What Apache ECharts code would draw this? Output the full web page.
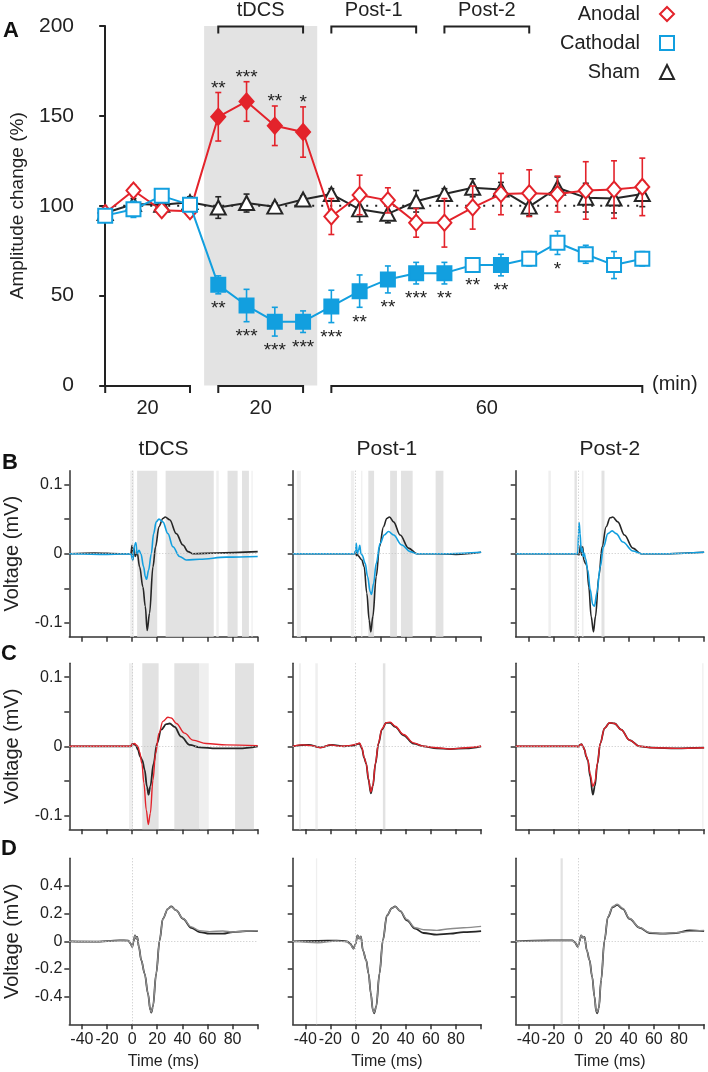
<!DOCTYPE html>
<html><head><meta charset="utf-8">
<script src="https://cdn.jsdelivr.net/npm/echarts@6/dist/echarts.min.js"></script>
<style>html,body{margin:0;padding:0;background:#fff}#c{width:708px;height:1072px}</style>
</head><body><div id="c"></div>
<script>
// ---------------- Panel A data ----------------
const blockIdx = [0,1,2,3,4,5,6,7,8,9,10,11,12,13,14,15,16,17,18,19];
const anodalMean = [96,108.5,97.5,97,149.5,158,144.5,141,94,106,103,90.5,90.5,99,106.5,107,106.5,108.5,109,110.5];
const anodalErr  = [2,3,2,3,13.5,11,11,14,10,11,7,8,13.5,12,11.5,13,10,16,16,16];
const anodalFilled = [0,0,0,0,1,1,1,1,0,0,0,0,0,0,0,0,0,0,0,0];
const anodalStars = ['','','','','**','***','**','*','','','','','','','','','','','',''];
const cathodalMean = [94.5,98,105.5,100.5,56,44.5,35.5,35.5,44,52.5,59,62.5,62.5,67,67,70.5,79.4,73,67,70.5];
const cathodalErr  = [3,4.5,3,3,5,9,8,6,9,9,7.5,6,6,3,6,4,6.5,5,7.5,4];
const cathodalFilled = [0,0,0,0,1,1,1,1,1,1,1,1,1,0,1,0,0,0,0,0];
const cathodalStars = ['','','','','**','***','***','***','***','**','**','***','**','**','**','','*','','',''];
const shamMean = [96,101,100.5,102,99,101.5,99.5,103.5,106.5,98,95.5,102.5,106.5,110,109,99.5,110,104.5,104,106.5];
const shamErr  = [2,3,2,3,6,5,2,2,3,7,5,6,3,5,4,5,6,8,8,7];
const refLevel = 100;
const tdcsShade = [3.5, 7.5];
const topBracketLabels = ['tDCS','Post-1','Post-2'];
const topBracketFrom = [4,8,12];
const topBracketTo = [7,11,15];
const bottomBracketLabels = ['20','20','60'];
const bottomBracketFrom = [0,4,8];
const bottomBracketTo = [3,7,19];
const yTicksA = [0,50,100,150,200];

// ---------------- Panels B-D data (time ms, voltage mV) ----------------
const B_tdcs_base = [[-50,0],[-30,0.001],[-10,0],[-1,0],[0,0.012],[0.5,-0.009],[1.5,0.008],[2.5,-0.004],[4,0.002],[6,-0.019],[8.6,-0.048],[10.5,-0.076],[12,-0.111],[13.9,-0.086],[16.6,-0.019],[18.7,0.010],[21.4,0.039],[24.5,0.051],[26.4,0.053],[29.9,0.049],[35.2,0.029],[40.5,0.0125],[44.5,0.003],[48.4,0],[67,0.001],[100,0.003]];
const B_tdcs_cath = [[-50,0],[-20,-0.001],[-1,0],[0.5,-0.009],[2,0.0125],[3,0.016],[4,0],[5.5,0.005],[7,0],[9.2,-0.019],[10.5,-0.033],[11.5,-0.037],[13.1,-0.024],[15.3,0],[17.1,0.029],[19.2,0.046],[21.4,0.050],[24.5,0.046],[28.5,0.029],[32.5,0.010],[37.8,-0.004],[43.1,-0.009],[53.7,-0.008],[75,-0.005],[100,-0.004]];
const B_post1_base = [[-50,0],[-1,0],[0,0.003],[0.6,-0.003],[1.3,0.002],[2,-0.003],[5.1,-0.009],[6.9,-0.019],[9,-0.057],[10.9,-0.096],[12.2,-0.113],[13.8,-0.091],[16.5,-0.033],[19.1,0.010],[22.3,0.039],[24.9,0.051],[27.1,0.053],[30.3,0.046],[35.6,0.027],[42.2,0.008],[48.9,0],[64.8,0],[80,-0.001],[100,0.002]];
const B_post1_cath = [[-50,0],[-1,0],[0,0.003],[0.6,0.015],[1.4,0],[2.4,0.005],[3.4,0.012],[4.3,0],[5.3,-0.002],[7.7,-0.014],[9.6,-0.033],[11.7,-0.055],[12.7,-0.059],[14.4,-0.043],[16.5,-0.014],[19.6,0.015],[22.9,0.027],[26.3,0.032],[30.3,0.027],[36.9,0.0125],[43.5,0.003],[48.9,0],[75,0],[100,0.002]];
const B_post2_base = [[-50,0],[-1,0],[0.3,-0.002],[0.8,0.003],[1.6,0.0125],[2.4,-0.002],[3.4,0.010],[4.2,-0.009],[5.6,-0.014],[6.6,-0.017],[8.2,-0.048],[10.1,-0.091],[11.9,-0.113],[13.5,-0.091],[16.2,-0.033],[18.8,0.010],[22,0.039],[25.2,0.052],[27.3,0.053],[31.3,0.046],[36.6,0.027],[43.3,0.008],[49.9,0],[72.5,0],[100,0.002]];
const B_post2_cath = [[-50,0],[-1,0],[-0.5,0.003],[0,0.029],[0.5,0.045],[1.3,0.029],[2.1,0.003],[2.9,0.008],[3.7,-0.004],[4.5,0.001],[5.6,-0.007],[7.4,-0.024],[9.3,-0.052],[11.4,-0.074],[12.7,-0.076],[14.6,-0.057],[17.3,-0.019],[19.9,0.010],[23.4,0.029],[26.8,0.033],[30,0.029],[35.3,0.017],[43.3,0.004],[49.9,0],[72,0],[100,0.002]];

const C_tdcs_base = [[-50,0],[-1,0],[0,0.003],[2,0.003],[3.3,0],[4.6,-0.005],[6.5,-0.015],[8.1,-0.02],[10,-0.034],[11.8,-0.058],[13.1,-0.070],[14.5,-0.058],[17.1,-0.025],[19.8,0.004],[23.2,0.024],[27.2,0.032],[29.9,0.033],[33.8,0.028],[39.1,0.014],[45.8,0.002],[53.7,-0.0015],[67,-0.003],[85,-0.003],[100,0]];
const C_tdcs_anod = [[-50,0],[-1,0],[0,0.003],[2,0.004],[3.3,0.002],[4.6,0],[6,-0.008],[7.8,-0.025],[9.4,-0.053],[11.3,-0.092],[12.9,-0.113],[14.5,-0.097],[16.6,-0.049],[18.7,-0.010],[21.4,0.019],[24.5,0.036],[28.5,0.042],[31.2,0.041],[35.2,0.033],[41.8,0.019],[48.4,0.009],[59,0.004],[75,0.002],[100,0.001]];
const C_post1_base = [[-50,0],[-37.4,0.002],[-28,-0.0015],[-18.8,0.002],[-9,0],[-1.5,0.001],[1,0.003],[3.2,0.004],[5.1,-0.003],[6.9,-0.017],[8.5,-0.025],[10.4,-0.049],[12.2,-0.068],[13.8,-0.058],[15.9,-0.025],[18.3,0.004],[21,0.024],[24.4,0.034],[27.6,0.034],[31.6,0.028],[38.2,0.016],[46.2,0.004],[54.2,0],[64.7,-0.003],[75.3,-0.004],[88,-0.003],[100,0]];
const C_post1_anod = [[-50,0],[-42,0.002],[-35,0.001],[-28,-0.002],[-20,0.002],[-12,0],[-5,0.001],[1,0.003],[3.2,0.005],[5.1,-0.002],[6.9,-0.016],[8.5,-0.025],[10.4,-0.047],[12.2,-0.066],[13.8,-0.057],[15.9,-0.024],[18.3,0.005],[21,0.025],[24.4,0.034],[27.6,0.035],[31.6,0.029],[38.2,0.017],[46.2,0.005],[54.2,0],[64.7,-0.002],[75.3,-0.004],[88,-0.002],[100,0]];
const C_post2_base = [[-50,0],[-1,0],[0,-0.001],[1,0.002],[2.4,0.003],[3.5,0],[4.8,-0.005],[6.1,-0.015],[7.4,-0.02],[9.3,-0.044],[11.4,-0.070],[13,-0.058],[15.1,-0.025],[17.3,0.004],[20.7,0.026],[24.7,0.034],[28.7,0.033],[34,0.024],[40.6,0.009],[48.6,0],[59.2,-0.002],[77.8,-0.003],[100,-0.002]];
const C_post2_anod = [[-50,0],[-1,0],[0,-0.001],[1,0.002],[2.4,0.003],[3.5,0],[4.8,-0.005],[6.1,-0.014],[7.4,-0.019],[9.3,-0.040],[11.4,-0.058],[13,-0.052],[15.1,-0.024],[17.3,0.004],[20.7,0.026],[24.7,0.034],[28.7,0.033],[34,0.024],[40.6,0.009],[48.6,0],[59.2,-0.002],[77.8,-0.003],[100,-0.002]];

const D_tdcs_base = [[-50,0],[-30,-0.003],[-10,0.007],[-3,0.005],[-1.2,-0.017],[0.1,-0.04],[1.2,0],[2.3,0.043],[3.3,0.019],[4.1,0.031],[5.4,-0.041],[7.3,-0.137],[10,-0.233],[12.6,-0.376],[14.5,-0.496],[15.3,-0.515],[16.6,-0.472],[19.2,-0.233],[21.9,0.007],[24.5,0.163],[28.5,0.235],[31.2,0.252],[35.2,0.223],[40.5,0.163],[47.1,0.098],[53.7,0.067],[61.7,0.055],[72.3,0.055],[80.3,0.067],[90.9,0.074],[100,0.074]];
const D_tdcs_sham = [[-50,0],[-30,-0.002],[-10,0.005],[-3,0.004],[-1.2,-0.018],[0.1,-0.04],[1.2,0],[2.3,0.042],[3.3,0.019],[4.1,0.030],[5.4,-0.041],[7.3,-0.137],[10,-0.233],[12.6,-0.376],[14.5,-0.496],[15.3,-0.512],[16.6,-0.472],[19.2,-0.233],[21.9,0.007],[24.5,0.163],[28.5,0.235],[31.2,0.250],[35.2,0.223],[40.5,0.165],[47.1,0.104],[53.7,0.077],[61.7,0.070],[72.3,0.075],[80.3,0.067],[90.9,0.074],[100,0.076]];
const D_post1_base = [[-50,0],[-30,0.003],[-15,0.005],[-7,0],[-4.2,-0.017],[-1.6,-0.053],[0,-0.02],[1.6,0.043],[2.9,0.02],[4.3,0.036],[5.9,-0.065],[8.5,-0.137],[10.4,-0.233],[12.2,-0.376],[13.8,-0.496],[14.9,-0.52],[16.5,-0.472],[19.1,-0.233],[21.8,0.007],[25,0.187],[29,0.24],[31.6,0.252],[35.6,0.218],[40.9,0.151],[47.5,0.091],[54.2,0.06],[64.8,0.048],[75.4,0.055],[86,0.067],[100,0.074]];
const D_post1_sham = [[-50,0],[-30,-0.01],[-15,0.002],[-7,-0.003],[-4.2,-0.02],[-1.6,-0.055],[0,-0.02],[1.6,0.04],[2.9,0.02],[4.3,0.034],[5.9,-0.065],[8.5,-0.137],[10.4,-0.233],[12.2,-0.376],[13.8,-0.496],[14.9,-0.515],[16.5,-0.472],[19.1,-0.233],[21.8,0.007],[25,0.187],[29,0.24],[31.6,0.250],[35.6,0.220],[40.9,0.158],[47.5,0.098],[54.2,0.084],[64.8,0.079],[75.4,0.091],[86,0.098],[100,0.108]];
const D_post2_base = [[-50,0],[-23,0.007],[-5,0.007],[-3.2,-0.005],[-0.5,-0.041],[0.8,0],[2.1,0.043],[3.5,0.026],[4.8,0.031],[6.6,-0.065],[8.8,-0.137],[10.9,-0.257],[12.7,-0.4],[14.1,-0.508],[14.9,-0.52],[16.2,-0.484],[18,-0.281],[20.7,0.007],[23.4,0.175],[27.3,0.247],[30.8,0.264],[35.3,0.235],[40.6,0.163],[48.6,0.098],[56.5,0.06],[67.1,0.055],[77.8,0.06],[88.4,0.079],[100,0.074]];
const D_post2_sham = [[-50,0],[-23,0.005],[-5,0.006],[-3.2,-0.006],[-0.5,-0.04],[0.8,0],[2.1,0.042],[3.5,0.026],[4.8,0.03],[6.6,-0.065],[8.8,-0.137],[10.9,-0.257],[12.7,-0.4],[14.1,-0.505],[14.9,-0.512],[16.2,-0.484],[18,-0.281],[20.7,0.007],[23.4,0.178],[27.3,0.252],[30.8,0.268],[35.3,0.238],[40.6,0.165],[48.6,0.1],[56.5,0.064],[67.1,0.057],[77.8,0.062],[88.4,0.072],[100,0.078]];

// significance bands (ms ranges)
const B_tdcs_bands = [[4,20],[26.7,65],[76,84],[87.5,93]];
const B_tdcs_faint = [[-1.5,1.5],[67,69],[95,96]];
const B_post1_bands = [[10.2,14.8],[27.6,33],[36.2,45.5],[63.8,70]];
const B_post1_faint = [[-46.7,-43.5],[-3.7,-1],[4.5,5.5]];
const B_post2_bands = [[-3.2,-1.3],[18.3,20.7]];
const B_post2_faint = [[-24,-22],[2.7,4]];
const C_tdcs_bands = [[8.1,21.1],[33.6,53.7],[82,97]];
const C_tdcs_faint = [[-2.5,0.7],[54,61]];
const C_post1_bands = [[21.8,23.8]];
const C_post1_faint = [[-45,-43.5],[-32,-30]];
const C_post2_bands = [];
const C_post2_faint = [[98.5,99.5]];
const D_tdcs_bands = [];
const D_tdcs_faint = [];
const D_post1_bands = [];
const D_post1_faint = [[-31.5,-30.5]];
const D_post2_bands = [[-14.3,-12.5]];
const D_post2_faint = [];

const xTicks = [-40,-20,0,20,40,60,80,100];
const xTickLabels = [-40,-20,0,20,40,60,80];
const yTicksBC = [-0.1,-0.05,0,0.05,0.1];
const yLabelsBC = [-0.1,0,0.1];
const yTicksD = [-0.4,-0.2,0,0.2,0.4];
const columnTitles = ['tDCS','Post-1','Post-2'];

// ---------------- styling ----------------
const RED = '#e3232b', BLUE = '#129fdf', DARK = '#262626', GRAYT = '#8c8c8c';
const FONT = '"Liberation Sans", Arial, Helvetica, sans-serif';
const TXT = '#222';

const chart = echarts.init(document.getElementById('c'), null, {renderer:'canvas'});

const grids = [{left:78.6, top:26, width:584.9, height:359.5}];
const xAxes = [{gridIndex:0, type:'value', min:-0.75, max:19.75, show:false}];
const yAxes = [{gridIndex:0, type:'value', min:0, max:200, interval:50,
  axisLine:{show:true, lineStyle:{color:'#222', width:2}},
  axisTick:{show:true, length:6, lineStyle:{color:'#222', width:2}},
  axisLabel:{fontSize:21, color:TXT, margin:10, fontFamily:FONT},
  splitLine:{show:false},
  name:'Amplitude change (%)', nameLocation:'middle', nameGap:57,
  nameTextStyle:{fontSize:19, color:TXT, fontFamily:FONT}}];

const series = [];

// reference dotted line + tDCS shading
series.push({type:'line', name:'ref', xAxisIndex:0, yAxisIndex:0, z:1, silent:true,
  symbol:'none', data:[[blockIdx[0],refLevel],[blockIdx[19],refLevel]],
  lineStyle:{color:'#222', width:2, type:[2,7]},
  markArea:{silent:true, itemStyle:{color:'#e3e3e3'},
    data:[[{xAxis:tdcsShade[0], yAxis:yTicksA[0]},{xAxis:tdcsShade[1], yAxis:yTicksA[4]}]]}
});

function errSeries(name, mean, err, color, z){
  return {type:'custom', name, xAxisIndex:0, yAxisIndex:0, z, silent:true,
    data: blockIdx.map((x,i)=>[x, mean[i]-err[i], mean[i]+err[i]]),
    encode:{x:0, y:[1,2]},
    renderItem(params, api){
      const lo = api.coord([api.value(0), api.value(1)]);
      const hi = api.coord([api.value(0), api.value(2)]);
      const w = 3, st = {stroke:color, lineWidth:1.6};
      return {type:'group', children:[
        {type:'line', shape:{x1:lo[0],y1:lo[1],x2:hi[0],y2:hi[1]}, style:st},
        {type:'line', shape:{x1:lo[0]-w,y1:lo[1],x2:lo[0]+w,y2:lo[1]}, style:st},
        {type:'line', shape:{x1:hi[0]-w,y1:hi[1],x2:hi[0]+w,y2:hi[1]}, style:st}
      ]};
    }
  };
}
function meanSeries(name, mean, filled, color, symbol, size, z){
  return {type:'line', name, xAxisIndex:0, yAxisIndex:0, z, silent:true,
    symbol, symbolSize:size, showAllSymbol:true,
    lineStyle:{color, width:2},
    itemStyle:{color:'#fff', borderColor:color, borderWidth:2},
    data: blockIdx.map((x,i)=> filled[i] ? {value:[x,mean[i]], itemStyle:{color, borderColor:color}} : [x,mean[i]])
  };
}
function starSeries(name, mean, err, stars, dir, z){
  const data = [];
  blockIdx.forEach((x,i)=>{ if (stars[i]) data.push([x, mean[i] + dir*err[i], i]); });
  return {type:'custom', name, xAxisIndex:0, yAxisIndex:0, z, silent:true, data,
    encode:{x:0, y:1},
    renderItem(params, api){
      const p = api.coord([api.value(0), api.value(1)]);
      return {type:'text', x:p[0], y: p[1] + (dir < 0 ? 15 : -4),
        style:{text: stars[api.value(2)], align:'center', verticalAlign:'middle',
          fontSize:19, fill:TXT, fontFamily:FONT}};
    }
  };
}

series.push(errSeries('Sham-err', shamMean, shamErr, DARK, 2));
series.push(meanSeries('Sham', shamMean, blockIdx.map(()=>0), DARK, 'triangle', [15,14], 3));
series.push(errSeries('Anodal-err', anodalMean, anodalErr, RED, 4));
series.push(meanSeries('Anodal', anodalMean, anodalFilled, RED, 'diamond', [14,16], 5));
series.push(errSeries('Cathodal-err', cathodalMean, cathodalErr, BLUE, 6));
series.push(meanSeries('Cathodal', cathodalMean, cathodalFilled, BLUE, 'rect', 14, 7));
series.push(starSeries('Anodal-stars', anodalMean, anodalErr, anodalStars, 1, 8));
series.push(starSeries('Cathodal-stars', cathodalMean, cathodalErr, cathodalStars, -1, 8));

// brackets
function bracketSeries(name, labels, from, to, yVal, textDy, z){
  return {type:'custom', name, xAxisIndex:0, yAxisIndex:0, z, silent:true,
    data: labels.map((l,i)=>[from[i], to[i], yVal, i]),
    encode:{x:[0,1], y:2},
    renderItem(params, api){
      const a = api.coord([api.value(0), api.value(2)]);
      const b = api.coord([api.value(1), api.value(2)]);
      const y = a[1] + 0.5;
      return {type:'group', children:[
        {type:'polyline', shape:{points:[[a[0],y+7],[a[0],y],[b[0],y],[b[0],y+7]]},
          style:{stroke:'#222', lineWidth:2, fill:null}},
        {type:'text', x:(a[0]+b[0])/2, y:y+textDy,
          style:{text:labels[api.value(3)], align:'center', verticalAlign:'middle', fontSize:20, fill:TXT, fontFamily:FONT}}
      ]};
    }
  };
}
series.push(bracketSeries('topBr', topBracketLabels, topBracketFrom, topBracketTo, yTicksA[4], -16, 9));
series.push(bracketSeries('botBr', bottomBracketLabels, bottomBracketFrom, bottomBracketTo, yTicksA[0], 22, 9));

// ---------------- small multiples ----------------
const colLeft = [69.3, 292.7, 515.7];
const rowTop = [470.7, 663.3, 858.3];
const GW = 188.4, GH = 166;
const rows = [
  {traces:[[B_tdcs_base,B_tdcs_cath],[B_post1_base,B_post1_cath],[B_post2_base,B_post2_cath]],
   bands:[B_tdcs_bands,B_post1_bands,B_post2_bands], faint:[B_tdcs_faint,B_post1_faint,B_post2_faint],
   colors:[DARK,BLUE], widths:[1.6,1.6], yMin:-0.12, yMax:0.12, yTicks:yTicksBC, yLabels:yLabelsBC, xLabels:false},
  {traces:[[C_tdcs_base,C_tdcs_anod],[C_post1_base,C_post1_anod],[C_post2_base,C_post2_anod]],
   bands:[C_tdcs_bands,C_post1_bands,C_post2_bands], faint:[C_tdcs_faint,C_post1_faint,C_post2_faint],
   colors:[DARK,RED], widths:[1.8,1.4], yMin:-0.12, yMax:0.12, yTicks:yTicksBC, yLabels:yLabelsBC, xLabels:false},
  {traces:[[D_tdcs_base,D_tdcs_sham],[D_post1_base,D_post1_sham],[D_post2_base,D_post2_sham]],
   bands:[D_tdcs_bands,D_post1_bands,D_post2_bands], faint:[D_tdcs_faint,D_post1_faint,D_post2_faint],
   colors:[DARK,GRAYT], widths:[1.8,1.4], yMin:-0.6, yMax:0.6, yTicks:yTicksD, yLabels:yTicksD, xLabels:true}
];
const axLine = {show:true, onZero:false, lineStyle:{color:'#333', width:1.5}};
const axTick = {show:true, length:5, lineStyle:{color:'#333', width:1.5}};

rows.forEach((row, r)=>{
  for (let c=0;c<3;c++){
    const g = grids.length;
    grids.push({left:colLeft[c], top:rowTop[r], width:GW, height:GH});
    xAxes.push({gridIndex:g, type:'value', min:-50, max:100,
      axisLine:axLine, axisTick:Object.assign({customValues:xTicks}, axTick),
      axisLabel:{show:row.xLabels, customValues:xTickLabels, fontSize:16, color:TXT, margin:7, fontFamily:FONT},
      splitLine:{show:false},
      name: row.xLabels ? 'Time (ms)' : '', nameLocation:'middle', nameGap:29,
      nameTextStyle:{fontSize:16, color:TXT, fontFamily:FONT}});
    yAxes.push({gridIndex:g, type:'value', min:row.yMin, max:row.yMax,
      axisLine:axLine, axisTick:Object.assign({customValues:row.yTicks}, axTick),
      axisLabel:{show:c===0, customValues:row.yLabels, fontSize:16, color:TXT, margin:7, fontFamily:FONT},
      splitLine:{show:false},
      name: c===0 ? 'Voltage (mV)' : '', nameLocation:'middle', nameGap:47,
      nameTextStyle:{fontSize:20, color:TXT, fontFamily:FONT}});
    const [t0, t1] = row.traces[c];
    const areaData = row.bands[c].map(b=>[{xAxis:b[0]},{xAxis:b[1]}])
      .concat(row.faint[c].map(b=>[{xAxis:b[0], itemStyle:{color:'#efefef'}},{xAxis:b[1]}]));
    series.push({type:'line', name:'base'+g, xAxisIndex:g, yAxisIndex:g, z:3, silent:true,
      data:t0, symbol:'none', smooth:0.35, smoothMonotone:'x',
      lineStyle:{color:row.colors[0], width:row.widths[0]},
      markArea:{silent:true, itemStyle:{color:'#e2e2e2'}, data:areaData},
      markLine:{silent:true, symbol:['none','none'], label:{show:false},
        lineStyle:{color:'#c4c4c4', type:[1,2], width:1},
        data:[{xAxis:0},{yAxis:0}]}
    });
    series.push({type:'line', name:'cmp'+g, xAxisIndex:g, yAxisIndex:g, z:4, silent:true,
      data:t1, symbol:'none', smooth:0.35, smoothMonotone:'x',
      lineStyle:{color:row.colors[1], width:row.widths[1]}});
  }
});

const graphics = [
  {type:'text', x:3, y:31, style:{text:'A', fontSize:22, fontWeight:'bold', fill:'#111', fontFamily:FONT, verticalAlign:'middle'}},
  {type:'text', x:2, y:463, style:{text:'B', fontSize:22, fontWeight:'bold', fill:'#111', fontFamily:FONT, verticalAlign:'middle'}},
  {type:'text', x:1, y:654, style:{text:'C', fontSize:22, fontWeight:'bold', fill:'#111', fontFamily:FONT, verticalAlign:'middle'}},
  {type:'text', x:1, y:849, style:{text:'D', fontSize:22, fontWeight:'bold', fill:'#111', fontFamily:FONT, verticalAlign:'middle'}},
  {type:'text', x:652, y:384, style:{text:'(min)', fontSize:20, fill:TXT, fontFamily:FONT, verticalAlign:'middle'}}
];
columnTitles.forEach((t,c)=>graphics.push({type:'text', x:colLeft[c]+GW/2, y:449,
  style:{text:t, fontSize:21, fill:TXT, fontFamily:FONT, align:'center', verticalAlign:'middle'}}));

chart.setOption({
  animation:false,
  textStyle:{fontFamily:FONT},
  grid:grids, xAxis:xAxes, yAxis:yAxes, series,
  legend:{orient:'vertical', right:28, top:-1, align:'right', itemWidth:14, itemHeight:14, itemGap:9,
    selectedMode:false,
    textStyle:{fontSize:20, color:TXT, fontFamily:FONT, padding:[0,15,0,0]},
    data:[
      {name:'Anodal', icon:'diamond', itemStyle:{color:'#fff', borderColor:RED, borderWidth:2}},
      {name:'Cathodal', icon:'rect', itemStyle:{color:'#fff', borderColor:BLUE, borderWidth:2}},
      {name:'Sham', icon:'triangle', itemStyle:{color:'#fff', borderColor:DARK, borderWidth:2}}
    ]},
  graphic:graphics
});
</script></body></html>
